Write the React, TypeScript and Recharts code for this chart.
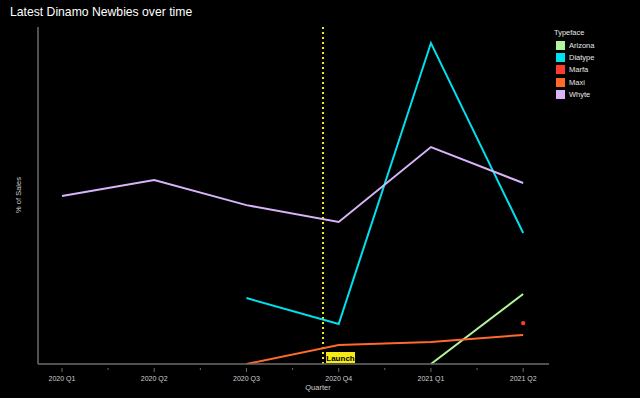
import React from 'react';
import { LineChart, Line, XAxis, YAxis, ReferenceLine } from 'recharts';

const quarters = ['2020 Q1', '2020 Q2', '2020 Q3', '2020 Q4', '2021 Q1', '2021 Q2'];
const arizona: (number | null)[] = [null, null, null, null, 0, 4.36];
const diatype: (number | null)[] = [null, null, 4.11, 2.49, 20.0, 8.16];
const marfa: (number | null)[] = [null, null, null, null, null, 2.55];
const maxi: (number | null)[] = [null, null, 0, 1.18, 1.37, 1.81];
const whyte: (number | null)[] = [10.47, 11.46, 9.9, 8.85, 13.52, 11.28];
const launchPos = 2.83;

const series = [
  { key: 'Arizona', values: arizona, color: '#b3f59c' },
  { key: 'Diatype', values: diatype, color: '#00e1f0' },
  { key: 'Marfa', values: marfa, color: '#ff3b30' },
  { key: 'Maxi', values: maxi, color: '#ff6a2b' },
  { key: 'Whyte', values: whyte, color: '#d8b4fa' },
];

const data = quarters.map((q, i) => {
  const row: any = { x: i, q };
  series.forEach((s) => (row[s.key] = s.values[i]));
  return row;
});

const tickValues: number[] = [];
for (let i = 0; i <= (quarters.length - 1) * 2; i++) tickValues.push(i / 2);

const FONT = '"Liberation Sans", Arial, sans-serif';
const AXIS = '#6b6b6b';

const Tick = (props: any) => {
  const { x, y, payload } = props;
  const v = payload.value;
  const major = Number.isInteger(v);
  return (
    <g>
      <line x1={x} x2={x} y1={y - 4} y2={y - 4 + (major ? 4 : 2)} stroke={AXIS} strokeWidth={1} />
      {major && (
        <text x={x} y={y + 9} textAnchor="middle" fill="#cfcfcf" fontSize={7} fontFamily={FONT}>
          {quarters[v]}
        </text>
      )}
    </g>
  );
};

const LaunchLabel = (props: any) => {
  const { viewBox } = props;
  const x = viewBox.x;
  const bottom = viewBox.y + viewBox.height;
  return (
    <g>
      <rect x={x + 3} y={bottom - 12} width={29} height={11} fill="#f5ea14" />
      <text x={x + 17.5} y={bottom - 3.5} textAnchor="middle" fontSize={8} fontWeight="bold" fill="#000" fontFamily={FONT}>
        Launch
      </text>
    </g>
  );
};

export default function App() {
  return (
    <div style={{ position: 'absolute', left: 0, top: 0, width: 640, height: 398, background: '#000', fontFamily: FONT }}>
      <div style={{ position: 'absolute', left: 10, top: 5, color: '#fff', fontSize: 12.2 }}>Latest Dinamo Newbies over time</div>
      <LineChart width={640} height={398} data={data} margin={{ top: 27, right: 91, bottom: 0, left: 37 }}>
        <XAxis
          dataKey="x"
          type="number"
          domain={[-0.26, 5.28]}
          ticks={tickValues}
          interval={0}
          tick={<Tick />}
          tickLine={false}
          axisLine={{ stroke: AXIS, strokeWidth: 1.5 }}
          height={34}
          allowDataOverflow
        />
        <YAxis
          type="number"
          domain={[0, 21]}
          width={1}
          tick={false}
          tickLine={false}
          axisLine={{ stroke: AXIS, strokeWidth: 1.5 }}
          allowDataOverflow
        />
        <ReferenceLine x={launchPos} stroke="#f5ea14" strokeWidth={2} strokeDasharray="2 3" label={<LaunchLabel />} />
        {series.map((s) => (
          <Line
            key={s.key}
            dataKey={s.key}
            stroke={s.color}
            strokeWidth={2}
            dot={s.key === 'Marfa' ? { r: 2.2, fill: s.color, stroke: 'none' } : false}
            isAnimationActive={false}
            connectNulls={false}
          />
        ))}
      </LineChart>
      <div style={{ position: 'absolute', left: 318, top: 383, color: '#cfcfcf', fontSize: 7.5, transform: 'translateX(-50%)' }}>Quarter</div>
      <div
        style={{
          position: 'absolute',
          left: 18,
          top: 195,
          color: '#cfcfcf',
          fontSize: 7.5,
          transform: 'translate(-50%, -50%) rotate(-90deg)',
          whiteSpace: 'nowrap',
        }}
      >
        % of Sales
      </div>
      <div style={{ position: 'absolute', left: 554, top: 28, color: '#e8e8e8', fontSize: 7.5 }}>
        <div style={{ marginBottom: 2 }}>Typeface</div>
        {series.map((s) => (
          <div key={s.key} style={{ display: 'flex', alignItems: 'center', height: 12.3 }}>
            <span style={{ display: 'inline-block', width: 9, height: 9, background: s.color, marginLeft: 2, marginRight: 4 }} />
            <span>{s.key}</span>
          </div>
        ))}
      </div>
    </div>
  );
}
